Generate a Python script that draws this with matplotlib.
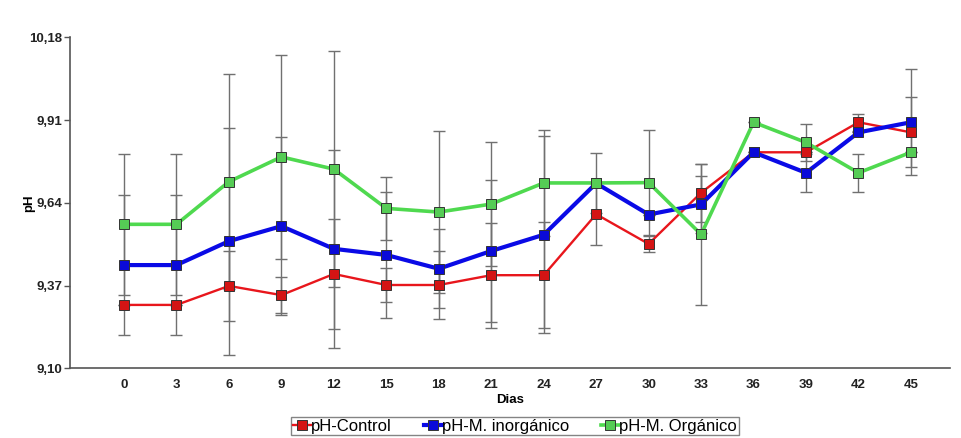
import matplotlib
matplotlib.use("Agg")
from matplotlib import pyplot as plt
from matplotlib.ticker import FuncFormatter

dias = [0, 3, 6, 9, 12, 15, 18, 21, 24, 27, 30, 33, 36, 39, 42, 45]

ph_control = [9.307, 9.307, 9.369, 9.339, 9.408, 9.372, 9.372, 9.404, 9.404,
              9.603, 9.506, 9.673, 9.805, 9.805, 9.903, 9.870]
ph_inorg = [9.437, 9.437, 9.515, 9.564, 9.490, 9.470, 9.425, 9.483, 9.536,
            9.704, 9.602, 9.635, 9.805, 9.738, 9.870, 9.903]
ph_org = [9.570, 9.570, 9.709, 9.790, 9.750, 9.622, 9.610, 9.636, 9.705,
          9.705, 9.706, 9.537, 9.903, 9.837, 9.738, 9.805]

err_control = [0.0, 0.0, 0.115, 0.06, 0.178, 0.055, 0.112, 0.171, 0.172,
               0.101, 0.026, 0.095, 0.0, 0.0, 0.027, 0.114]
err_inorg = [0.229, 0.229, 0.370, 0.291, 0.323, 0.207, 0.129, 0.232, 0.322,
             0.0, 0.0, 0.092, 0.0, 0.062, 0.0, 0.173]
err_org = [0.230, 0.230, 0.351, 0.334, 0.386, 0.104, 0.265, 0.201, 0.173,
           0.098, 0.172, 0.230, 0.0, 0.060, 0.062, 0.0]

yticks = [9.10, 9.37, 9.64, 9.91, 10.18]

plt.rcParams['font.family'] = ['Liberation Sans', 'DejaVu Sans']

fig = plt.figure(figsize=(9.61, 4.38), dpi=100)
ax = fig.add_axes([0.0728, 0.159, 0.9157, 0.7557])

series = [
    (ph_control, err_control, '#e8161c', '#d41414', 1.7, 'pH-Control'),
    (ph_inorg, err_inorg, '#0a0ae6', '#0a0ad8', 3.0, 'pH-M. inorgánico'),
    (ph_org, err_org, '#4fd94f', '#55cc55', 2.6, 'pH-M. Orgánico'),
]

# error bars first (gray), lines on top
for vals, errs, c, mc, lw, lab in series:
    ax.errorbar(dias, vals, yerr=errs, fmt='none', ecolor='#707070',
                elinewidth=1.0, capsize=4, capthick=1.0, zorder=1)

for vals, errs, c, mc, lw, lab in series:
    ax.plot(dias, vals, color=c, lw=lw, marker='s', markersize=6.5,
            markerfacecolor=mc, markeredgecolor='#333333', markeredgewidth=0.7,
            label=lab, zorder=3)

ax.set_xlim(-3.09, 47.23)
ax.set_ylim(9.10, 10.18)
ax.set_xticks(dias)
ax.set_yticks(yticks)
ax.yaxis.set_major_formatter(FuncFormatter(lambda v, p: f"{v:.2f}".replace('.', ',')))

for s in ['top', 'right']:
    ax.spines[s].set_visible(False)
for s in ['left', 'bottom']:
    ax.spines[s].set_color('#555555')
    ax.spines[s].set_linewidth(1.2)

ax.tick_params(axis='x', length=0, pad=8, labelsize=9.5)
ax.tick_params(axis='y', length=4, width=1, color='#555555', pad=1.5, labelsize=9.5)
for t in ax.get_xticklabels() + ax.get_yticklabels():
    t.set_fontweight('bold')
    t.set_color('#222222')

ax.set_xlabel('Dias', fontsize=9.5, fontweight='bold', labelpad=2)
ax.set_ylabel('pH', fontsize=9.5, fontweight='bold', labelpad=-4)

leg = fig.legend(loc='upper center', bbox_to_anchor=(0.536, 0.048), ncol=3,
                 frameon=True, fancybox=False, fontsize=12, handlelength=1.1,
                 handletextpad=0.0, columnspacing=1.9, borderpad=0.1,
                 borderaxespad=0.0)
leg.get_frame().set_edgecolor('#666666')
leg.get_frame().set_linewidth(1.0)

fig.savefig('out.png', dpi=100)
